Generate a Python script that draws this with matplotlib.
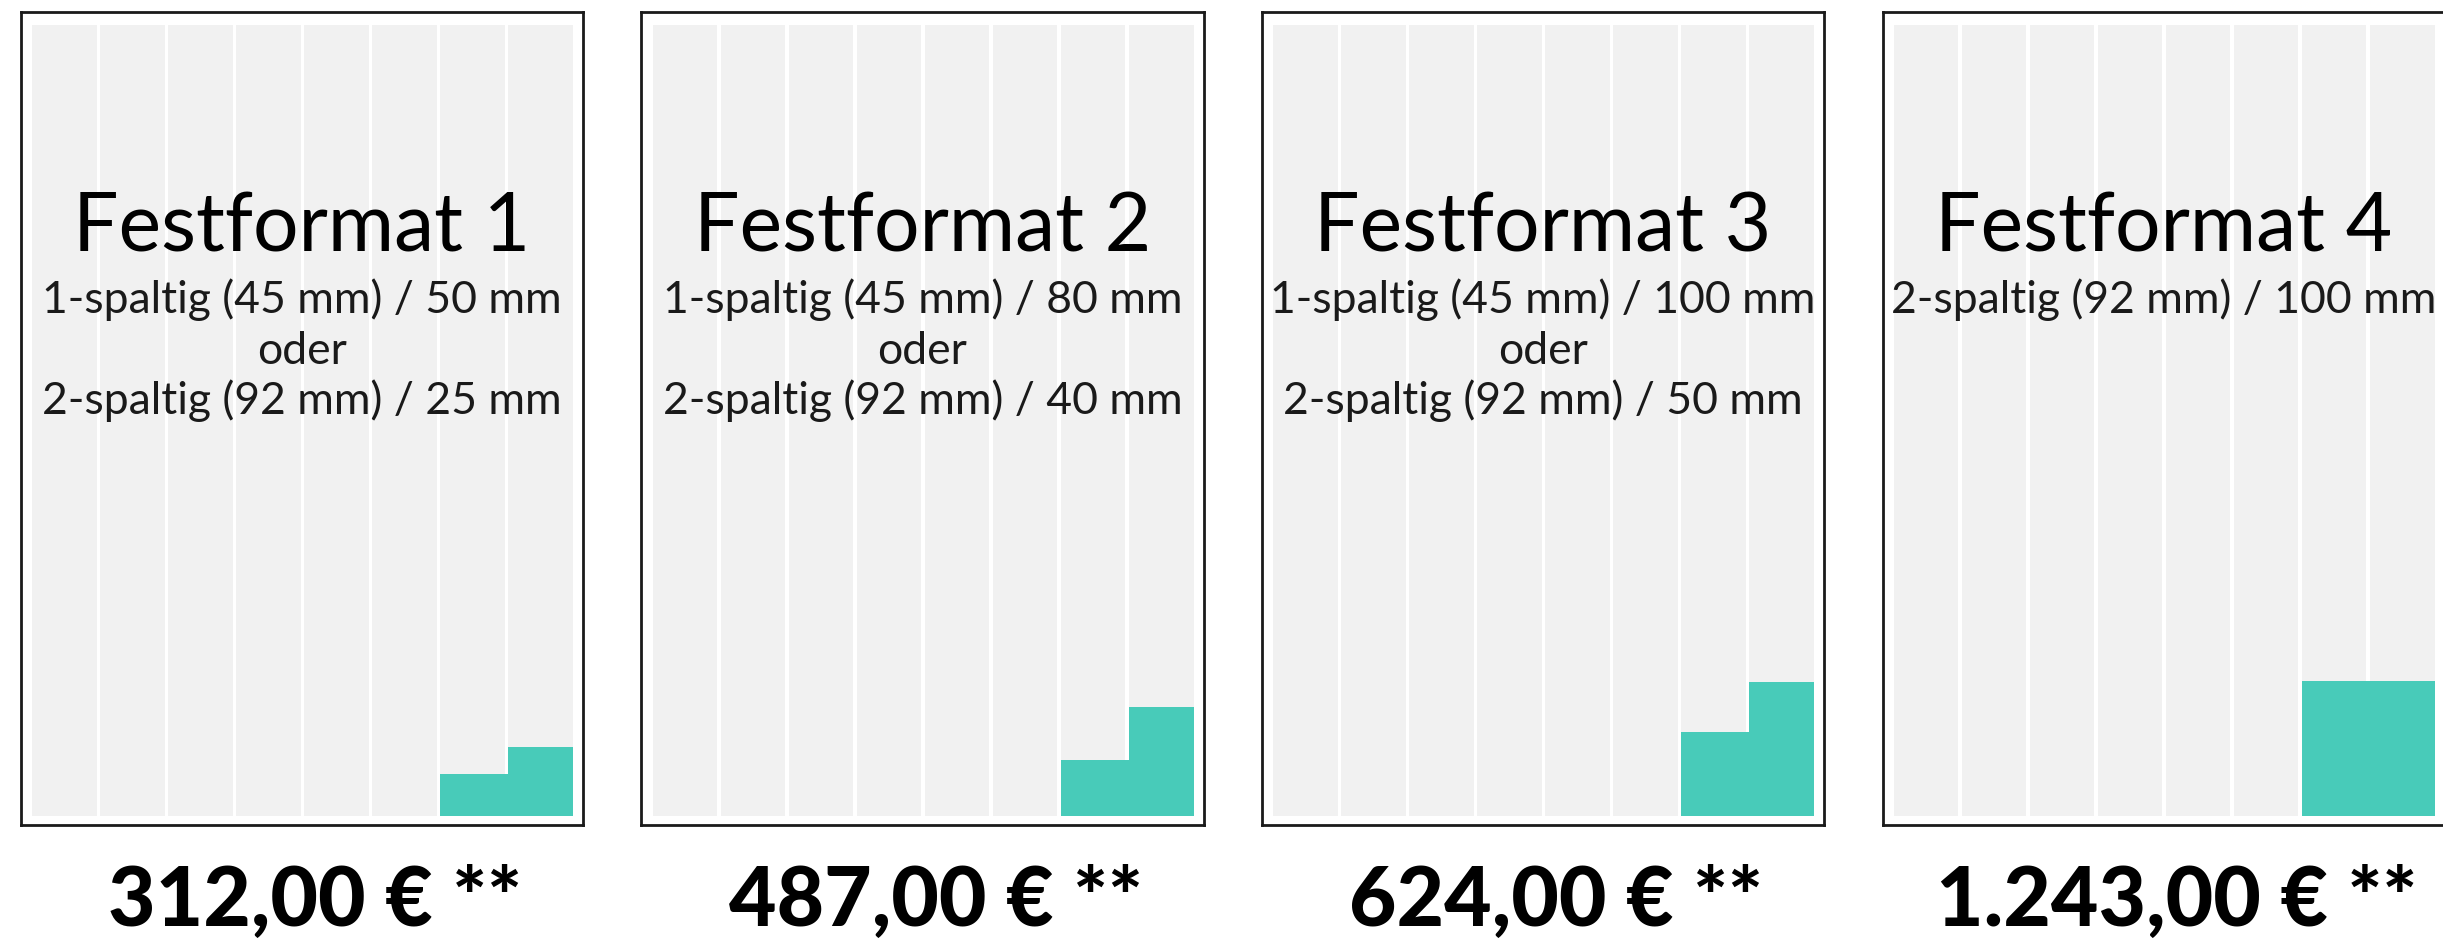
import matplotlib
matplotlib.use("Agg")
import matplotlib.pyplot as plt

# Data
formats = ["Festformat 1", "Festformat 2", "Festformat 3", "Festformat 4"]
details = [
    ["1-spaltig (45 mm) / 50 mm", "oder", "2-spaltig (92 mm) / 25 mm"],
    ["1-spaltig (45 mm) / 80 mm", "oder", "2-spaltig (92 mm) / 40 mm"],
    ["1-spaltig (45 mm) / 100 mm", "oder", "2-spaltig (92 mm) / 50 mm"],
    ["2-spaltig (92 mm) / 100 mm"],
]
prices = ["312,00 € **", "487,00 € **", "624,00 € **", "1.243,00 € **"]
# filled height of column 7 and column 8 (percent of page height)
col7_fill = [5.3, 7.1, 10.6, 17.1]
col8_fill = [8.7, 13.8, 16.9, 17.1]
n_cols = 8
page_h = 100

GRAY = "#f1f1f1"
TEAL = "#48cbb9"
W, H = 2443, 942
gap = 0.045  # white gap between columns, in column units
fam = ["Lato", "DejaVu Sans"]

fig = plt.figure(figsize=(W / 100, H / 100), dpi=100)
fig.patch.set_facecolor("white")


def box(x0, y_top, w, h):
    # pixel box -> figure fraction
    return [x0 / W, 1 - (y_top + h) / H, w / W, h / H]


for i, name in enumerate(formats):
    dx = 620.5 * i

    # outer frame
    fr = fig.add_axes(box(21 + dx, 12, 562, 813))
    fr.set_xticks([])
    fr.set_yticks([])
    for sp in fr.spines.values():
        sp.set_linewidth(2.0)
        sp.set_color("#1a1a1a")

    # the page with its columns
    ax = fig.add_axes(box(32 + dx, 25, 541, 791))
    ax.axis("off")
    ax.bar(range(n_cols), [page_h] * n_cols, width=1 - gap, align="edge",
           color=GRAY, linewidth=0)
    ax.bar([6, 7], [col7_fill[i], col8_fill[i]], width=[1, 1 - gap],
           align="edge", color=TEAL, linewidth=0)
    ax.set_xlim(0, n_cols - gap)
    ax.set_ylim(0, page_h)

    cx = 302 + dx
    fig.text(cx / W, 1 - 252 / H, name, ha="center", va="baseline",
             fontsize=58, family=fam, color="black")
    for k, line in enumerate(details[i]):
        fig.text(cx / W, 1 - (313 + 50.5 * k) / H, line, ha="center",
                 va="baseline", fontsize=32, fontweight="normal",
                 family=fam, color="#1a1a1a")
    fig.text((cx + 13) / W, 1 - 926 / H, prices[i], ha="center",
             va="baseline", fontsize=59, fontweight="black",
             family=fam, color="black")

fig.savefig("out.png", dpi=100)
